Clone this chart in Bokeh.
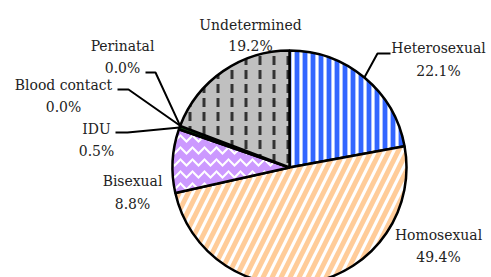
import math
from bokeh.plotting import figure
from bokeh.models import Range1d, ColumnDataSource
from bokeh.core.properties import value
from bokeh.embed import file_html
from bokeh.resources import INLINE

# ---- data ----
categories = ["Heterosexual", "Homosexual", "Bisexual", "IDU", "Blood contact", "Perinatal", "Undetermined"]
percents = [22.1, 49.4, 8.8, 0.5, 0.0, 0.0, 19.2]

# ---- styles ----
fills = ["#3366FF", "#FFFFFF", "#CC99FF", "#0B3D0B", "#000000", "#000000", "#C0C0C0"]
hatches = ["vertical_line", "right_diagonal_line", "horizontal_wave", " ", " ", " ", "vertical_dash"]
hatch_colors = ["#FFFFFF", "#FFCC99", "#FFFFFF", "#000000", "#000000", "#000000", "#333333"]
hatch_weights = [3.2, 5, 2, 1, 1, 1, 3]
hatch_scales = [8, 18, 12, 8, 8, 8, 14]

W, H = 491, 277
def X(ix):
    return ix
def Y(iy):
    return H - iy

cx, cy, R = X(289), Y(167), 117

p = figure(width=W, height=H, output_backend="svg", toolbar_location=None,
           x_range=Range1d(0, W), y_range=Range1d(0, H), min_border=0)
p.axis.visible = False
p.grid.visible = False
p.outline_line_color = None
p.background_fill_color = "white"
p.border_fill_color = "white"

# angles, clockwise from 12 o'clock
starts, ends, mids = [], [], []
cum = 0.0
total = sum(percents)
for v in percents:
    a0 = math.pi / 2 - 2 * math.pi * cum / total
    cum += v
    a1 = math.pi / 2 - 2 * math.pi * cum / total
    starts.append(a0); ends.append(a1); mids.append((a0 + a1) / 2)

idx = [i for i, v in enumerate(percents) if v > 0]
src = ColumnDataSource(dict(
    x=[cx] * len(idx), y=[cy] * len(idx),
    start=[ends[i] for i in idx], end=[starts[i] for i in idx],
    fill=[fills[i] for i in idx], hatch=[hatches[i] for i in idx],
    hcol=[hatch_colors[i] for i in idx], hw=[hatch_weights[i] for i in idx],
    hs=[hatch_scales[i] for i in idx],
))
p.wedge(x="x", y="y", radius=R, start_angle="start", end_angle="end",
        direction="anticlock", source=src, fill_color="fill",
        hatch_pattern="hatch", hatch_color="hcol", hatch_weight="hw",
        hatch_scale="hs", line_color="black", line_width=2.5)

# label centres (image px): x, line-1 y, line-2 y
label_pos = {
    "Heterosexual": (438, 47, 70),
    "Homosexual": (438, 234, 256),
    "Bisexual": (132, 180, 203),
    "IDU": (96, 128, 150),
    "Blood contact": (63, 84, 106),
    "Perinatal": (122, 45, 67),
    "Undetermined": (250, 24, 45),
}
# leader lines (image px): outer x, elbow x, y
leaders = {
    "Heterosexual": (390, 377, 53),
    "IDU": (115, 127, 132),
    "Blood contact": (117, 128, 89),
    "Perinatal": (145, 155, 72),
}

tx, ty, tt = [], [], []
for i, c in enumerate(categories):
    lx, l1, l2 = label_pos[c]
    tx += [X(lx), X(lx)]
    ty += [Y(l1), Y(l2)]
    tt += [c, f"{percents[i]:.1f}%"]
p.text(x=tx, y=ty, text=tt, text_align="center", text_baseline="middle",
       text_font=value("DejaVu Serif Condensed"), text_font_size="15.5px",
       text_color="#222222")

for i, c in enumerate(categories):
    if c in leaders:
        ox, ex, ly = leaders[c]
        px_ = cx + R * math.cos(mids[i])
        py_ = cy + R * math.sin(mids[i])
        p.line(x=[X(ox), X(ex), px_], y=[Y(ly), Y(ly), py_], line_color="black", line_width=2)

open("out.html", "w").write(file_html(p, INLINE))
